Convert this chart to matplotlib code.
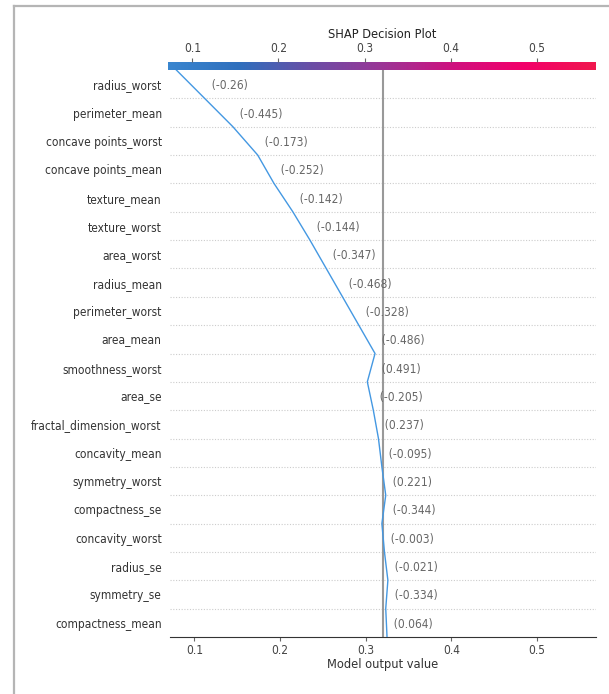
import numpy as np
import matplotlib.pyplot as plt
from matplotlib.colors import LinearSegmentedColormap
from matplotlib.lines import Line2D

# features, top to bottom as displayed
features = ["radius_worst", "perimeter_mean", "concave points_worst",
            "concave points_mean", "texture_mean", "texture_worst",
            "area_worst", "radius_mean", "perimeter_worst", "area_mean",
            "smoothness_worst", "area_se", "fractal_dimension_worst",
            "concavity_mean", "symmetry_worst", "compactness_se",
            "concavity_worst", "radius_se", "symmetry_se", "compactness_mean"]

feature_values = [-0.26, -0.445, -0.173, -0.252, -0.142, -0.144, -0.347,
                  -0.468, -0.328, -0.486, 0.491, -0.205, 0.237, -0.095,
                  0.221, -0.344, -0.003, -0.021, -0.334, 0.064]

# model output at each row boundary, top (prediction) to bottom
output_path = [0.079, 0.112, 0.145, 0.174, 0.193, 0.215, 0.235, 0.254,
               0.273, 0.292, 0.311, 0.302, 0.309, 0.315, 0.319, 0.3235,
               0.319, 0.322, 0.326, 0.3235, 0.325]

base_value = 0.3205
xticks = [0.1, 0.2, 0.3, 0.4, 0.5]
xlim = (0.0716, 0.569)

W, H = 609, 694
fig = plt.figure(figsize=(W / 100, H / 100), dpi=100)
plt.rcParams['font.family'] = ['DejaVu Sans']

FS = 8.6
n = len(features)

ax = fig.add_axes([170 / W, 1 - 637 / H, 426 / W, 567 / H])
ax.set_xlim(xlim)
ax.set_ylim(0, n)

# dotted row separators
for i in range(1, n):
    ax.axhline(i, color="#cccccc", lw=0.8, ls=(0, (1, 1.5)), zorder=1)

ax.axvline(base_value, color="#999999", lw=1.5, zorder=2)

yb = np.arange(n, -1, -1)
ax.plot(output_path, yb, color="#4498e2", lw=1.0, zorder=3)

# feature value labels
for i, v in enumerate(feature_values):
    x = max(output_path[i], output_path[i + 1])
    s = "{0:,.3f}".format(v).rstrip("0").rstrip(".")
    ax.text(x, n - i - 0.5, "  (" + s + ")", fontsize=FS, color="#666666",
            ha="left", va="center_baseline", fontstretch="condensed", zorder=4)

ax.set_yticks(np.arange(n) + 0.5)
ax.set_yticklabels(features[::-1], fontsize=FS, color="#333333",
                   fontstretch="condensed")
ax.tick_params(axis="y", length=0, pad=6)
ax.set_xticks(xticks)
ax.set_xticklabels([str(t) for t in xticks], fontsize=FS, color="#444444",
                   fontstretch="condensed")
ax.tick_params(axis="x", length=3, color="#666666", pad=2)
ax.set_xlabel("Model output value", fontsize=FS + 0.6, color="#333333",
              fontstretch="condensed", labelpad=1)
for side in ["left", "right", "top"]:
    ax.spines[side].set_visible(False)
ax.spines["bottom"].set_color("#333333")

# colour bar on top
cmap = LinearSegmentedColormap.from_list(
    "shap_rb", ["#3a86cf", "#2f6fbd", "#6a4ea6", "#9b3596", "#cf117f",
                "#f3006a", "#f0184e"])
cax = fig.add_axes([168 / W, 1 - 70 / H, 428 / W, 8.3 / H])
grad = np.linspace(0, 1, 256).reshape(1, -1)
cax.imshow(grad, cmap=cmap, aspect="auto", extent=(xlim[0], xlim[1], 0, 1))
cax.set_xlim(xlim)
cax.set_yticks([])
cax.xaxis.tick_top()
cax.set_xticks(xticks)
cax.set_xticklabels([str(t) for t in xticks], fontsize=FS, color="#444444",
                    fontstretch="condensed")
cax.tick_params(axis="x", length=3, color="#666666", pad=2)
for s in cax.spines.values():
    s.set_visible(False)
cax.set_title("SHAP Decision Plot", fontsize=FS + 0.6, color="#222222",
              fontstretch="condensed", pad=17)

# frame of the screenshot
fig.add_artist(Line2D([14 / W, 14 / W], [0, 1 - 6 / H], color="#b5b5b5", lw=1.6))
fig.add_artist(Line2D([14 / W, 1], [1 - 6 / H, 1 - 6 / H], color="#b5b5b5", lw=1.6))

fig.savefig("out.png", dpi=100)
